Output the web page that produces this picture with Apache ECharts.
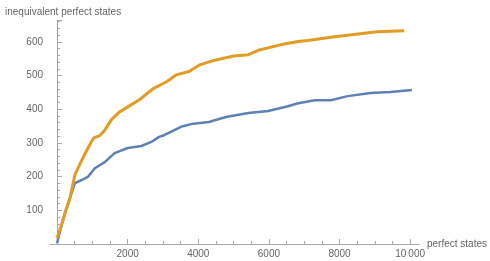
<!DOCTYPE html>
<html>
<head>
<meta charset="utf-8">
<script src="https://cdn.jsdelivr.net/npm/echarts@6/dist/echarts.min.js"></script>
<style>html,body{margin:0;padding:0;background:#fff}#c{width:490px;height:261px}</style>
</head>
<body>
<div id="c"></div>
<script>
const orangeX = [0, 30, 140, 225, 365, 505, 650, 790, 980, 1040, 1210, 1350, 1545, 1770, 2050, 2330, 2610, 2750, 3090, 3370, 3740, 4020, 4440, 5000, 5420, 5700, 6350, 6830, 7100, 7750, 8700, 9070, 9830];
const orangeY = [18, 27, 62, 92, 136, 205, 238, 268, 305, 315, 322, 338, 370, 392, 410, 428, 452, 463, 481, 502, 512, 531, 545, 558, 562, 575, 592, 601, 604, 614, 626, 630, 633];
const blueX = [0, 40, 225, 365, 505, 700, 870, 1070, 1350, 1630, 2000, 2390, 2670, 2890, 3030, 3510, 3800, 4300, 4780, 5420, 5980, 6540, 6830, 7300, 7750, 8230, 8880, 9440, 10050];
const blueY = [2, 21, 92, 136, 181, 190, 199, 225, 243, 270, 285, 291, 303, 318, 323, 348, 356, 362, 377, 389, 395, 409, 418, 427, 427, 439, 448, 451, 457];
const xMajorTicks = [2000, 4000, 6000, 8000, 10000];
const xMinorTicks = [500, 1000, 1500, 2500, 3000, 3500, 4500, 5000, 5500, 6500, 7000, 7500, 8500, 9000, 9500];
const xTitle = 'perfect states';
const yTitle = 'inequivalent perfect states';

const zip = (xs, ys) => xs.map((x, i) => [x, ys[i]]);
const axisColor = '#a8a8a8';
const labelColor = '#666';
const font = 'Liberation Sans';
const chart = echarts.init(document.getElementById('c'));
chart.setOption({
  animation: false,
  title: {text: yTitle, left: 0, top: 2, textStyle: {fontSize: 10, fontWeight: 'normal', color: labelColor, fontFamily: font}},
  grid: {left: 50, right: 68, top: 20, bottom: 17},
  xAxis: [{
    type: 'value', min: -200, max: 10250,
    name: xTitle, nameLocation: 'end', nameGap: 8,
    nameTextStyle: {fontSize: 10, color: labelColor, fontFamily: font},
    axisLine: {show: true, lineStyle: {color: axisColor}},
    axisTick: {show: true, inside: true, length: 5, customValues: xMajorTicks, lineStyle: {color: axisColor}},
    axisLabel: {show: true, customValues: xMajorTicks, margin: 5, fontSize: 10, color: labelColor, fontFamily: font,
      formatter: v => v >= 10000 ? String(v).slice(0, -3) + '\u2009' + String(v).slice(-3) : String(v)},
    splitLine: {show: false}
  }, {
    type: 'value', min: -200, max: 10250, position: 'bottom',
    axisLine: {show: false},
    axisTick: {show: true, inside: true, length: 3, customValues: xMinorTicks, lineStyle: {color: axisColor}},
    axisLabel: {show: false},
    splitLine: {show: false}
  }],
  yAxis: {
    type: 'value', min: 0, max: 665, interval: 100,
    axisLine: {show: true, onZero: true, lineStyle: {color: axisColor}},
    axisTick: {show: true, inside: true, length: 5, lineStyle: {color: axisColor}},
    minorTick: {show: true, splitNumber: 5, length: 3, lineStyle: {color: axisColor}},
    axisLabel: {margin: 7, fontSize: 10, color: labelColor, fontFamily: font, showMinLabel: false, showMaxLabel: false,
      formatter: v => v % 100 === 0 ? String(v) : ''},
    splitLine: {show: false}
  },
  series: [{
    type: 'line', data: zip(blueX, blueY), showSymbol: false,
    lineStyle: {color: '#5e81b5', width: 2.5}, itemStyle: {color: '#5e81b5'}
  }, {
    type: 'line', data: zip(orangeX, orangeY), showSymbol: false,
    lineStyle: {color: '#e19c24', width: 3}, itemStyle: {color: '#e19c24'}
  }]
});
</script>
</body>
</html>
